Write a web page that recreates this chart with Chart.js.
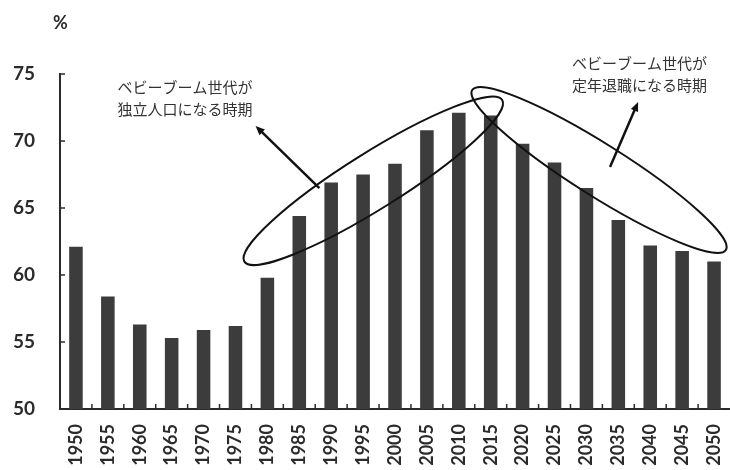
<!DOCTYPE html>
<html>
<head>
<meta charset="utf-8">
<script src="https://cdn.jsdelivr.net/npm/chart.js@4"></script>
<style>
  body { margin: 0; background: #fff; }
  #wrap { width: 730px; height: 470px; }
</style>
</head>
<body>
<div id="wrap"><canvas id="chart" width="730" height="470"></canvas></div>
<script>
// data
const years = ["1950","1955","1960","1965","1970","1975","1980","1985","1990","1995","2000",
               "2005","2010","2015","2020","2025","2030","2035","2040","2045","2050"];
const workingShare = [62.1, 58.4, 56.3, 55.3, 55.9, 56.2, 59.8, 64.4, 66.9, 67.5, 68.3,
                      70.8, 72.1, 71.9, 69.8, 68.4, 66.5, 64.1, 62.2, 61.8, 61.0];
const yTicks = [50, 55, 60, 65, 70, 75];
const unitLabel = "%";
const noteLeft = ["ベビーブーム世代が", "独立人口になる時期"];
const noteRight = ["ベビーブーム世代が", "定年退職になる時期"];

// annotation anchors as [category index, value]
const ellipseLeft = [[5.28, 61.0], [13.36, 73.06]];
const ellipseRight = [[12.42, 73.8], [20.37, 61.87]];
const arrowLeft = [[7.63, 66.49], [5.63, 71.12]];
const arrowRight = [[16.74, 68.06], [17.62, 72.91]];
const noteLeftAt = [1.30, 74.03];
const noteRightAt = [15.55, 75.82];

const ink = "#2b2b2b";

const overlay = {
  id: "overlay",
  afterDatasetsDraw(chart) {
    const ctx = chart.ctx;
    const area = chart.chartArea;
    const x = chart.scales.x, y = chart.scales.y;
    const pt = p => [x.getPixelForValue(p[0]), y.getPixelForValue(p[1])];
    ctx.save();

    // inward tick marks
    ctx.strokeStyle = ink;
    ctx.lineWidth = 1.5;
    yTicks.forEach(v => {
      const py = y.getPixelForValue(v);
      ctx.beginPath(); ctx.moveTo(area.left, py); ctx.lineTo(area.left + 5, py); ctx.stroke();
    });
    for (let i = 0; i < years.length - 1; i++) {
      const px = x.getPixelForValue(i + 0.5);
      ctx.beginPath(); ctx.moveTo(px, area.bottom); ctx.lineTo(px, area.bottom - 5); ctx.stroke();
    }

    // unit label
    ctx.fillStyle = ink;
    ctx.font = "bold 18px Lato";
    ctx.textAlign = "left";
    ctx.textBaseline = "middle";
    ctx.fillText(unitLabel, area.left - 7, area.top - 51);

    // ellipses
    const ellipse = (tips, minor) => {
      const a = pt(tips[0]), b = pt(tips[1]);
      const cx = (a[0] + b[0]) / 2, cy = (a[1] + b[1]) / 2;
      const half = Math.hypot(b[0] - a[0], b[1] - a[1]) / 2;
      const ang = Math.atan2(b[1] - a[1], b[0] - a[0]);
      ctx.beginPath();
      ctx.ellipse(cx, cy, half, minor, ang, 0, Math.PI * 2);
      ctx.stroke();
    };
    ctx.strokeStyle = "#111";
    ctx.lineWidth = 2;
    ellipse(ellipseLeft, 28);
    ellipse(ellipseRight, 26);

    // arrows
    const arrow = (seg) => {
      const a = pt(seg[0]), b = pt(seg[1]);
      const ang = Math.atan2(b[1] - a[1], b[0] - a[0]);
      ctx.lineWidth = 2.5;
      ctx.beginPath(); ctx.moveTo(a[0], a[1]);
      ctx.lineTo(b[0] - 5 * Math.cos(ang), b[1] - 5 * Math.sin(ang));
      ctx.stroke();
      ctx.beginPath();
      ctx.moveTo(b[0], b[1]);
      ctx.lineTo(b[0] - 10 * Math.cos(ang - 0.4), b[1] - 10 * Math.sin(ang - 0.4));
      ctx.lineTo(b[0] - 10 * Math.cos(ang + 0.4), b[1] - 10 * Math.sin(ang + 0.4));
      ctx.closePath();
      ctx.fillStyle = "#111";
      ctx.fill();
    };
    arrow(arrowLeft);
    arrow(arrowRight);

    // notes
    ctx.fillStyle = "#333";
    ctx.font = "15px 'Noto Sans CJK JP'";
    ctx.textAlign = "left";
    const note = (lines, at) => {
      const p = pt(at);
      lines.forEach((s, i) => ctx.fillText(s, p[0], p[1] + i * 22));
    };
    note(noteLeft, noteLeftAt);
    note(noteRight, noteRightAt);

    ctx.restore();
  }
};

new Chart(document.getElementById("chart"), {
  type: "bar",
  data: {
    labels: years,
    datasets: [{
      data: workingShare,
      backgroundColor: "#3c3c3c",
      borderWidth: 0,
      barPercentage: 0.85,
      categoryPercentage: 0.5
    }]
  },
  options: {
    responsive: false,
    animation: false,
    layout: { padding: { top: 74, left: 14, right: 0, bottom: 0 } },
    plugins: { legend: { display: false }, tooltip: { enabled: false } },
    scales: {
      x: {
        grid: { display: false, drawTicks: false },
        border: { display: true, color: ink, width: 2 },
        afterFit: s => { s.height = 61; s.paddingLeft = 0; s.paddingRight = 0; },
        ticks: {
          autoSkip: false, maxRotation: 90, minRotation: 90, padding: 15,
          color: ink, font: { family: "Lato", size: 18, weight: "bold" }
        }
      },
      y: {
        min: 50, max: 75,
        grid: { display: false, drawTicks: false },
        border: { display: true, color: ink, width: 2 },
        afterBuildTicks: s => { s.ticks = yTicks.map(v => ({ value: v })); },
        afterFit: s => { s.width = 46; },
        ticks: {
          padding: 25,
          color: ink, font: { family: "Lato", size: 19, weight: "bold" }
        }
      }
    }
  },
  plugins: [overlay]
});
</script>
</body>
</html>
